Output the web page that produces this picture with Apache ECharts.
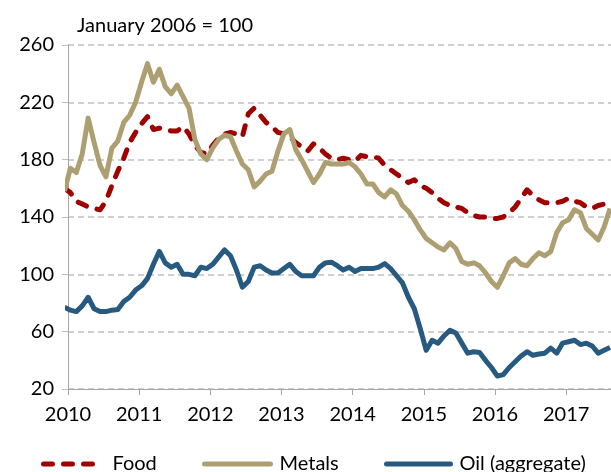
<!DOCTYPE html>
<html>
<head>
<meta charset="utf-8">
<script src="https://cdn.jsdelivr.net/npm/echarts@6/dist/echarts.min.js"></script>
<style>
  html, body { margin: 0; padding: 0; background: #fff; }
  #main { width: 611px; height: 472px; }
</style>
</head>
<body>
<div id="main"></div>
<script>
// monthly index values, Dec 2009 .. Aug 2017 (January 2006 = 100)
var startYear = 2009, startMonth = 11; // Dec 2009, clipped by the axis
var foodValues = [
  160, 157, 151, 149, 147, 146, 145, 151, 162, 172, 181, 192, 199,
  205, 210, 201, 202, 201, 200, 200, 203, 198, 190, 185, 184,
  190, 195, 198, 199, 198, 196, 212, 216, 211, 206, 203, 199,
  198, 196, 192, 189, 186, 191, 188, 184, 181, 180, 181, 180,
  179, 183, 182, 182, 181, 176, 173, 170, 167, 164, 166, 162,
  160, 157, 153, 150, 148, 147, 146, 143, 141, 140, 140, 139,
  139, 140, 143, 147, 153, 159, 155, 152, 150, 150, 150, 151,
  153, 151, 150, 147, 146, 148, 149, 146
];
var metalsValues = [
  158, 174, 171, 184, 209, 192, 176, 168, 188, 193, 206, 211, 220,
  234, 247, 234, 243, 231, 226, 232, 224, 216, 194, 184, 180,
  188, 194, 197, 196, 186, 177, 173, 161, 165, 170, 172, 186,
  198, 201, 187, 180, 172, 164, 170, 178, 177, 177, 177, 178,
  175, 170, 163, 163, 157, 154, 159, 156, 148, 144, 138, 131,
  125, 122, 119, 117, 122, 118, 109, 107, 108, 106, 101, 95,
  91, 99, 108, 111, 107, 106, 111, 115, 113, 116, 129, 136,
  138, 145, 143, 132, 128, 124, 133, 146
];
var oilValues = [
  77, 75, 74, 78, 84, 76, 74, 74, 75, 75.5, 81, 84, 89,
  92, 97, 107, 116, 108, 105, 107, 100, 100, 99, 105, 104,
  107, 112, 117, 113, 103, 91, 95, 105, 106, 103, 101, 101,
  104, 107, 102, 99, 99, 99, 105, 108, 108.5, 106, 103, 105,
  102, 104, 104, 104, 105, 107.5, 104, 99, 94, 84, 76, 62,
  47, 54, 52, 57, 61, 59, 52, 45, 46, 45.5, 40, 35,
  29, 30, 35, 39, 43, 46, 43.5, 44.4, 45, 48.5, 45, 52,
  53, 54, 51, 52, 50, 45, 47, 49
];
var yearTicks = [2010, 2011, 2012, 2013, 2014, 2015, 2016, 2017];
var seriesNames = ['Food', 'Metals', 'Oil (aggregate)'];

// points sit a little into each month, like the original date axis
function toPairs(values) {
  return values.map(function (v, i) {
    return [startYear + (startMonth + i + 0.4) / 12, v];
  });
}

var font = 'Lato';
var chart = echarts.init(document.getElementById('main'));

// one legend per entry so each sits where the original has it
function legendItem(name, left, width) {
  return {
    data: [name],
    left: left,
    top: 454,
    padding: 0,
    itemWidth: width,
    itemHeight: 14,
    itemStyle: { opacity: 0 },
    lineStyle: { width: 5, cap: 'round' },
    textStyle: { fontFamily: font, fontSize: 20, color: '#000', padding: [0, 0, 0, 4] }
  };
}

chart.setOption({
  animation: false,
  textStyle: { fontFamily: font },
  title: {
    text: 'January 2006 = 100',
    left: 72,
    top: 11,
    textStyle: { fontFamily: font, fontSize: 20, fontWeight: 'normal', color: '#000' }
  },
  legend: [
    legendItem(seriesNames[0], 41, 60),
    legendItem(seriesNames[1], 202, 66),
    legendItem(seriesNames[2], 384, 64)
  ],
  grid: { left: 68, right: 0, top: 45, bottom: 83, containLabel: false },
  xAxis: {
    type: 'value',
    min: yearTicks[0],
    max: 2017.63,
    interval: 1,
    axisLine: { lineStyle: { color: '#a6a6a6', width: 1 } },
    axisTick: { show: true, length: 6, lineStyle: { color: '#a6a6a6' } },
    axisLabel: {
      margin: 16,
      fontSize: 20,
      color: '#000',
      fontFamily: font,
      showMaxLabel: false,
      formatter: function (v) { return yearTicks.indexOf(v) >= 0 ? String(v) : ''; }
    },
    splitLine: { show: false }
  },
  yAxis: {
    type: 'value',
    min: 20,
    max: 260,
    interval: 40,
    axisLine: { show: true, lineStyle: { color: '#a6a6a6', width: 1 } },
    axisTick: { show: true, length: 6, lineStyle: { color: '#bfbfbf' } },
    axisLabel: { margin: 14, fontSize: 20, color: '#000', fontFamily: font },
    splitLine: { lineStyle: { color: '#c0c0c0', type: [6, 4], width: 1.5 } }
  },
  series: [
    {
      name: 'Food',
      type: 'line',
      data: toPairs(foodValues),
      symbol: 'none',
      clip: true,
      lineStyle: { color: '#a00000', width: 5, type: [9, 11], cap: 'round', join: 'round' },
      itemStyle: { color: '#a00000' },
      z: 3
    },
    {
      name: 'Metals',
      type: 'line',
      data: toPairs(metalsValues),
      symbol: 'none',
      clip: true,
      lineStyle: { color: '#ad9f72', width: 5, join: 'round' },
      itemStyle: { color: '#ad9f72' },
      z: 4
    },
    {
      name: 'Oil (aggregate)',
      type: 'line',
      data: toPairs(oilValues),
      symbol: 'none',
      clip: true,
      lineStyle: { color: '#275a80', width: 5, join: 'round' },
      itemStyle: { color: '#275a80' },
      z: 5
    }
  ]
});
</script>
</body>
</html>
